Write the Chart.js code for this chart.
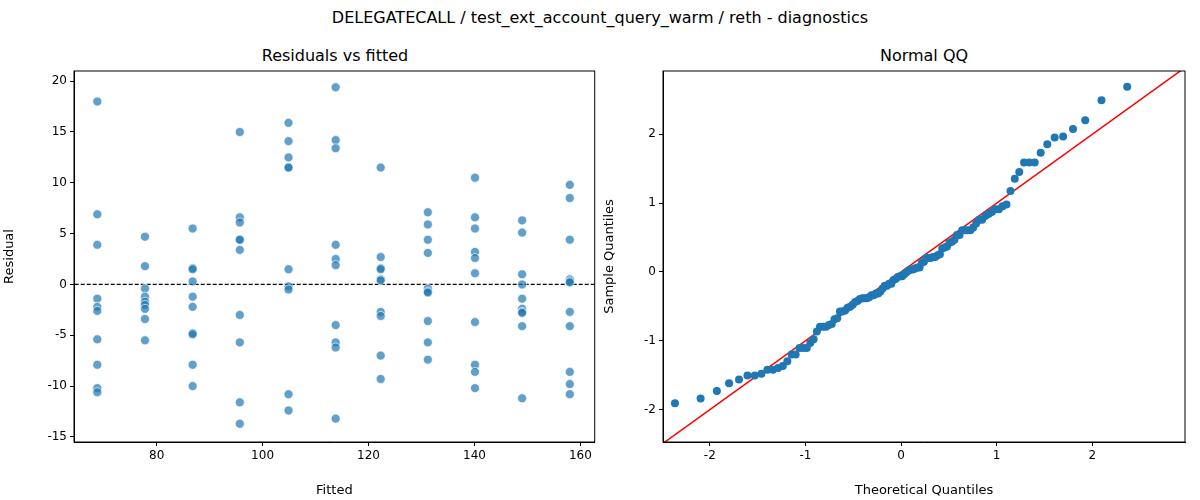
<!DOCTYPE html>
<html>
<head>
<meta charset="utf-8">
<script src="https://cdn.jsdelivr.net/npm/chart.js@4"></script>
<style>
  body { margin: 0; background: #fff; font-family: "DejaVu Sans", sans-serif; }
  .t { position: absolute; text-align: center; color: #000; }
  canvas { position: absolute; top: 0; }
</style>
</head>
<body>
<div class="t" style="left:0;width:1200px;top:8px;font-size:16px">DELEGATECALL / test_ext_account_query_warm / reth - diagnostics</div>
<div class="t" style="left:74px;width:522px;top:46px;font-size:16px">Residuals vs fitted</div>
<div class="t" style="left:663px;width:522px;top:46px;font-size:16px">Normal QQ</div>
<div style="position:absolute;left:0;top:0;width:600px;height:500px"><canvas id="resid"></canvas></div>
<div style="position:absolute;left:600px;top:0;width:600px;height:500px"><canvas id="qq"></canvas></div>
<script>
const fittedLevels = [68.8, 77.8, 86.8, 95.7, 104.9, 113.8, 122.3, 131.2, 140.1, 149.0, 158.0];
const residuals = [
  [18.0, 6.9, 3.9, -1.4, -2.2, -2.6, -5.4, -7.9, -10.2, -10.6],
  [4.7, 1.8, -0.4, -1.2, -1.7, -2.0, -2.4, -3.4, -5.5],
  [5.5, 1.6, 1.5, 0.3, -1.2, -2.2, -4.8, -4.9, -7.9, -10.0],
  [15.0, 6.6, 6.1, 4.4, 4.4, 3.4, -3.0, -5.7, -11.6, -13.7],
  [15.9, 14.1, 12.5, 11.5, 11.5, 1.5, -0.2, -0.5, -10.8, -12.4],
  [19.4, 14.2, 13.4, 3.9, 2.5, 1.9, -4.0, -5.7, -6.2, -13.2],
  [11.5, 2.7, 1.6, 1.5, 0.5, 0.4, -2.7, -3.1, -7.0, -9.3],
  [7.1, 5.9, 4.4, 3.1, -0.4, -0.7, -0.8, -3.6, -5.7, -7.4],
  [10.5, 6.6, 5.5, 3.2, 2.6, 1.1, -3.7, -7.9, -8.6, -10.2],
  [6.3, 5.1, 1.0, 0.0, -1.4, -2.4, -2.7, -2.8, -4.1, -11.2],
  [9.8, 8.5, 4.4, 0.5, 0.3, 0.2, -2.7, -4.1, -8.6, -9.8, -10.8],
];
const residXTicks = [80, 100, 120, 140, 160];
const residYTicks = [-15, -10, -5, 0, 5, 10, 15, 20];
const qqTicks = [-2, -1, 0, 1, 2];

// scatter points
const residPoints = [];
fittedLevels.forEach((f, i) => residuals[i].forEach((r) => residPoints.push({ x: f, y: r })));

// QQ: standardized residuals, sorted, against normal quantiles i/(n+1)
function normInv(p) {
  const a = [-39.6968302866538, 220.946098424521, -275.928510446969, 138.357751867269, -30.6647980661472, 2.50662827745924];
  const b = [-54.4760987982241, 161.585836858041, -155.698979859887, 66.8013118877197, -13.2806815528857];
  const c = [-0.00778489400243029, -0.322396458041136, -2.40075827716184, -2.54973253934373, 4.37466414146497, 2.93816398269878];
  const d = [0.00778469570904146, 0.32246712907004, 2.445134137143, 3.75440866190742];
  const pl = 0.02425;
  let q, r;
  if (p < pl) {
    q = Math.sqrt(-2 * Math.log(p));
    return (((((c[0]*q+c[1])*q+c[2])*q+c[3])*q+c[4])*q+c[5]) / ((((d[0]*q+d[1])*q+d[2])*q+d[3])*q+1);
  }
  if (p > 1 - pl) return -normInv(1 - p);
  q = p - 0.5; r = q * q;
  return (((((a[0]*r+a[1])*r+a[2])*r+a[3])*r+a[4])*r+a[5])*q / (((((b[0]*r+b[1])*r+b[2])*r+b[3])*r+b[4])*r+1);
}
const allRes = residPoints.map((p) => p.y);
const n = allRes.length;
const mean = allRes.reduce((s, v) => s + v, 0) / n;
const sd = Math.sqrt(allRes.reduce((s, v) => s + (v - mean) ** 2, 0) / (n - 1));
const sorted = allRes.map((v) => (v - mean) / sd).sort((a, b) => a - b);
const qqPoints = sorted.map((v, i) => ({ x: normInv((i + 1) / (n + 1)), y: v }));

const frame = {
  id: "frame",
  afterDraw(chart) {
    const { ctx, chartArea: a } = chart;
    ctx.save();
    ctx.strokeStyle = "#000";
    ctx.lineWidth = 1;
    ctx.strokeRect(a.left, a.top, a.right - a.left, a.bottom - a.top);
    ctx.restore();
  },
};

function axis(min, max, ticks, title, size) {
  return {
    type: "linear", min, max,
    afterBuildTicks: (s) => { s.ticks = ticks.map((v) => ({ value: v })); },
    afterFit: (s) => { if (s.isHorizontal()) s.height = size; else s.width = size; },
    grid: { display: true, drawOnChartArea: false, drawTicks: true, tickLength: 4, color: "#000" },
    border: { display: true, color: "#000" },
    ticks: { color: "#000", font: { family: "DejaVu Sans", size: 12 }, padding: 3 },
    title: { display: true, text: title, color: "#000", font: { family: "DejaVu Sans", size: 13 }, padding: 2 },
  };
}

Chart.defaults.animation = false;

new Chart(document.getElementById("resid"), {
  type: "scatter",
  data: {
    datasets: [
      {
        data: residPoints,
        backgroundColor: "rgba(31,119,180,0.7)",
        borderColor: "rgba(255,255,255,0.8)",
        borderWidth: 0.8,
        pointRadius: 4.5,
      },
      {
        type: "line",
        data: [{ x: 60, y: 0 }, { x: 170, y: 0 }],
        borderColor: "#000",
        borderWidth: 1.2,
        borderDash: [4, 2],
        pointRadius: 0,
      },
    ],
  },
  options: {
    responsive: true, maintainAspectRatio: false,
    layout: { padding: { top: 71, right: 4, left: 0, bottom: 0 } },
    plugins: { legend: { display: false }, tooltip: { enabled: false } },
    scales: {
      x: axis(64.4, 162.7, residXTicks, "Fitted", 58),
      y: axis(-15.5, 21.0, residYTicks, "Residual", 74),
    },
  },
  plugins: [frame],
});

new Chart(document.getElementById("qq"), {
  type: "scatter",
  data: {
    datasets: [
      {
        data: qqPoints,
        backgroundColor: "#1f77b4",
        borderWidth: 0,
        pointRadius: 4,
      },
      {
        type: "line",
        data: [{ x: -3, y: -3 }, { x: 3.5, y: 3.5 }],
        borderColor: "#ff0000",
        borderWidth: 1.5,
        pointRadius: 0,
      },
    ],
  },
  options: {
    responsive: true, maintainAspectRatio: false,
    layout: { padding: { top: 71, right: 15, left: 0, bottom: 0 } },
    plugins: { legend: { display: false }, tooltip: { enabled: false } },
    scales: {
      x: axis(-2.49, 2.97, qqTicks, "Theoretical Quantiles", 58),
      y: axis(-2.47, 2.92, qqTicks, "Sample Quantiles", 63),
    },
  },
  plugins: [frame],
});
</script>
</body>
</html>
